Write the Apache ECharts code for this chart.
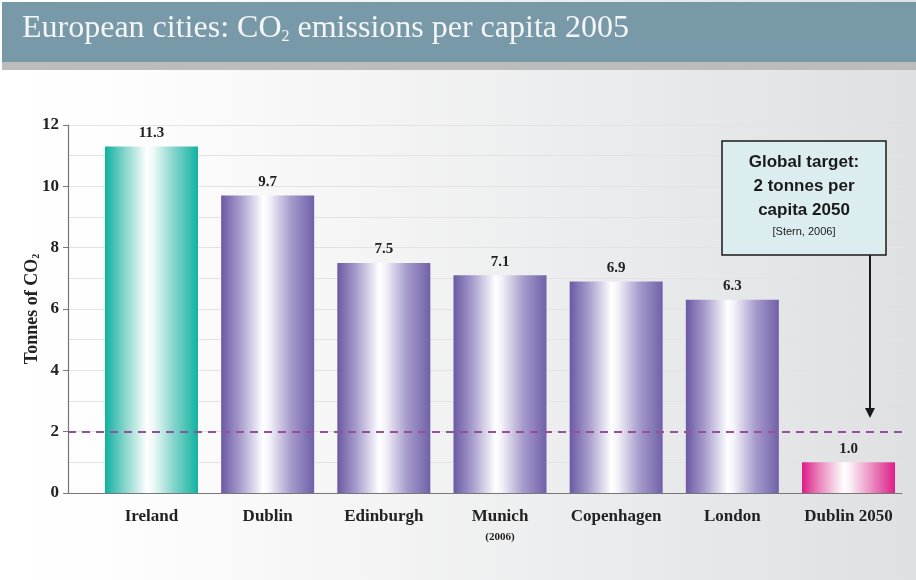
<!DOCTYPE html>
<html><head><meta charset="utf-8">
<script src="https://cdn.jsdelivr.net/npm/echarts@6/dist/echarts.min.js"></script>
<style>html,body{margin:0;padding:0;background:#fff}#c{width:916px;height:580px}</style>
</head><body><div id="c"></div>
<script>
const categories = ['Ireland','Dublin','Edinburgh','Munich','Copenhagen','London','Dublin 2050'];
const emissions = [11.3, 9.7, 7.5, 7.1, 6.9, 6.3, 1.0];
const barKinds = ['teal','purple','purple','purple','purple','purple','pink'];
const yTicks = [0,2,4,6,8,10,12];
const targetValue = 2;

function grad(edgeL, mid, edgeR){
  return {type:'linear',x:0,y:0,x2:1,y2:0,colorStops:[
    {offset:0,color:edgeL},{offset:0.2,color:mid},{offset:0.45,color:'#ffffff'},
    {offset:0.52,color:'#f3f1f8'},{offset:0.75,color:mid},{offset:1,color:edgeR}]};
}
const palette = {
  teal: grad('#0fb09f','#7fd3c9','#10b3a2'),
  purple: grad('#6b59a3','#a69bcb','#7160a8'),
  pink: grad('#dc1c86','#ea8cc0','#dd1f88')
};
palette.teal.colorStops[3].color='#eef9f7';
palette.pink.colorStops[3].color='#fbeef5';

const serif = '"Liberation Serif","DejaVu Serif",serif';
const sans = '"Liberation Sans",Arial,sans-serif';

const chart = echarts.init(document.getElementById('c'));
chart.setOption({
  animation:false,
  graphic:[
    {type:'rect',z:-100,shape:{x:0,y:0,width:916,height:580},
     style:{fill:{type:'linear',x:0,y:0,x2:1,y2:0,colorStops:[{offset:0,color:'#ffffff'},{offset:0.15,color:'#fdfdfd'},{offset:1,color:'#dfe0e2'}]}}},
    {type:'rect',z:-90,shape:{x:2,y:2,width:914,height:60},style:{fill:'#7899a8'}},
    {type:'rect',z:-90,shape:{x:2,y:62,width:914,height:8},style:{fill:'#bcbcbc'}},
    {type:'text',left:22,top:13,z:10,style:{
      text:'{a|European cities: CO}{s|2}{a| emissions per capita 2005}',
      rich:{a:{fontFamily:serif,fontSize:32,fill:'#f4f6f7',verticalAlign:'bottom',lineHeight:34},
            s:{fontFamily:serif,fontSize:16,fill:'#f4f6f7',verticalAlign:'bottom',lineHeight:24}}}},
    {type:'rect',z:20,shape:{x:722,y:141,width:164,height:114},style:{fill:'#dcedf0',stroke:'#1a1a1a',lineWidth:1.5}},
    {type:'text',z:21,x:804,y:150,style:{text:'Global target:\n2 tonnes per\ncapita 2050',align:'center',verticalAlign:'top',
      font:'bold 17px '+sans,fill:'#1a1a1a',lineHeight:24}},
    {type:'text',z:21,x:804,y:226,style:{text:'[Stern, 2006]',align:'center',verticalAlign:'top',font:'11px '+sans,fill:'#1a1a1a'}},
    {type:'line',z:21,shape:{x1:870,y1:255,x2:870,y2:410},style:{stroke:'#1a1a1a',lineWidth:2}},
    {type:'polygon',z:21,shape:{points:[[865,408],[875,408],[870,418]]},style:{fill:'#1a1a1a'}}
  ],
  grid:[
    {left:93.4,right:9.4,top:125,bottom:87},
    {left:68,right:14,top:125,bottom:87}
  ],
  xAxis:[
    {type:'category',gridIndex:0,data:categories,axisLine:{show:false},axisTick:{show:false},
     axisLabel:{interval:0,margin:15,fontFamily:serif,fontWeight:'bold',fontSize:17,color:'#222',
       formatter:v=> v==='Munich' ? 'Munich\n{s|(2006)}' : v,
       rich:{s:{fontFamily:serif,fontSize:11,color:'#222',lineHeight:22,padding:[2,0,0,0]}}}},
    {type:'value',gridIndex:1,min:0,max:1,axisLine:{show:true,lineStyle:{color:'#777',width:1.2}},
     axisTick:{show:false},axisLabel:{show:false},splitLine:{show:false}}
  ],
  yAxis:[
    {type:'value',gridIndex:0,min:0,max:12,show:false,splitLine:{show:false}},
    {type:'value',gridIndex:1,min:0,max:12,interval:2,
     axisLine:{show:true,lineStyle:{color:'#777',width:1.2}},
     axisTick:{show:true,length:5,lineStyle:{color:'#777'}},
     minorTick:{show:false,splitNumber:2},
     minorSplitLine:{show:true,lineStyle:{color:'#e3e3e3',width:1}},
     splitLine:{show:true,lineStyle:{color:'#e3e3e3',width:1}},
     axisLabel:{fontFamily:serif,fontWeight:'bold',fontSize:17,color:'#222',margin:9,
       formatter:v=> yTicks.includes(v)? String(v):''},
     name:'{a|Tonnes of CO}{s|2}',nameLocation:'middle',nameGap:27,nameRotate:90,nameMoveOverlap:false,
     nameTextStyle:{rich:{a:{fontFamily:serif,fontWeight:'bold',fontSize:18,color:'#222',verticalAlign:'bottom',lineHeight:20},
                          s:{fontFamily:serif,fontWeight:'bold',fontSize:10,color:'#222',verticalAlign:'bottom',lineHeight:14}}}}
  ],
  series:[
    {type:'bar',xAxisIndex:0,yAxisIndex:0,barWidth:93,z:5,
     data: emissions.map((v,i)=>({value:v,itemStyle:{color:palette[barKinds[i]]}})),
     label:{show:true,position:'top',distance:6,fontFamily:serif,fontWeight:'bold',fontSize:15,color:'#222',
       formatter:p=>p.value.toFixed(1)}},
    {type:'line',xAxisIndex:1,yAxisIndex:1,data:[],z:10,
     markLine:{silent:true,symbol:'none',label:{show:false},z:10,
       lineStyle:{color:'#92519a',type:[8,6],width:2},
       data:[{yAxis:targetValue}]}}
  ]
});
</script></body></html>
